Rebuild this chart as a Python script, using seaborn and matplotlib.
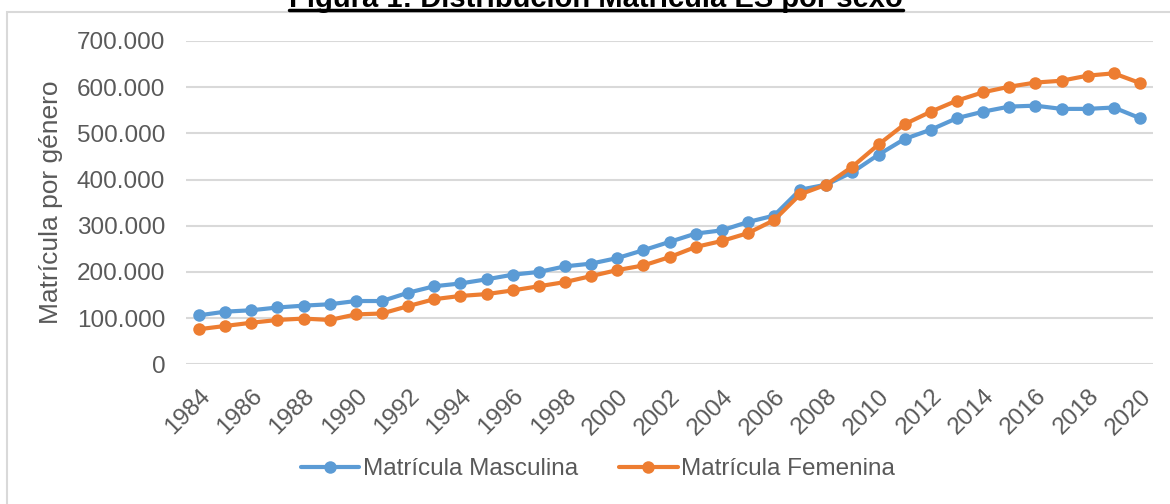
import pandas as pd
import numpy as np
import seaborn as sns
import matplotlib.pyplot as plt
from matplotlib.ticker import FuncFormatter
from matplotlib.patches import Rectangle
from matplotlib.lines import Line2D

sns.set_style("white")
plt.rcParams['font.family'] = ['Liberation Sans', 'DejaVu Sans']

# Valores (miles de estudiantes)
years = list(range(1984, 2021))
masculina = [106, 114, 117, 123, 127, 130, 137, 137, 155, 169, 175, 184,
             194, 200, 212, 218, 230, 247, 265, 283, 290, 308, 322, 378, 389,
             416, 454, 488, 508, 533, 547, 558, 560, 553, 553, 556, 533]
femenina = [76, 83, 90, 96, 99, 96, 108, 110, 126, 141, 148, 152,
            160, 169, 178, 191, 204, 214, 232, 254, 267, 284, 312, 368, 389,
            428, 476, 520, 547, 571, 589, 601, 610, 614, 625, 630, 609]
series = ["Matrícula Masculina", "Matrícula Femenina"]
colors = ["#5B9BD5", "#ED7D31"]
yticks = [0, 100000, 200000, 300000, 400000, 500000, 600000, 700000]

df = pd.DataFrame({
    "Año": years * 2,
    "Matrícula": [v * 1000 for v in masculina] + [v * 1000 for v in femenina],
    "Serie": [series[0]] * len(years) + [series[1]] * len(years),
})

fig = plt.figure(figsize=(11.7, 5.04), dpi=100)
ax = fig.add_axes([186 / 1170, 1 - 364.3 / 504, 967 / 1170, (364.3 - 41) / 504])

sns.lineplot(data=df, x="Año", y="Matrícula", hue="Serie", hue_order=series,
             palette=colors, marker="o", markersize=9, markeredgewidth=0,
             linewidth=3, ax=ax, legend=False)

ax.set_xlim(1983.5, 2020.5)
ax.set_ylim(0, 700000)
ax.set_yticks(yticks)
ax.yaxis.set_major_formatter(FuncFormatter(lambda v, p: f"{int(v):,}".replace(",", ".")))
ax.set_xticks(years[::2])
ax.grid(axis="y", color="#D9D9D9", linewidth=1.5)
ax.set_axisbelow(True)
for s in ax.spines.values():
    s.set_visible(False)

ax.tick_params(axis="both", length=0, labelsize=17.5, labelcolor="#595959")
ax.tick_params(axis="y", pad=15)
ax.tick_params(axis="x", pad=15)
for lab in ax.get_xticklabels():
    lab.set_rotation(45)
    lab.set_ha("right")
    lab.set_va("top")
    lab.set_rotation_mode("anchor")

ax.set_xlabel("")
ax.set_ylabel("Matrícula por género", fontsize=19, color="#595959", labelpad=10)

handles = [Line2D([0], [0], color=c, linewidth=3, marker="o", markersize=9,
                  markeredgewidth=0) for c in colors]
fig.legend(handles, series, loc="center", bbox_to_anchor=(598 / 1170, 1 - 469 / 504),
           ncol=2, frameon=False, fontsize=17.5, handlelength=2.4,
           handletextpad=0.15, columnspacing=1.7, labelcolor="#595959")

# marco del area del grafico
fig.add_artist(Rectangle((7 / 1170, -0.1), 1.2, (504 - 12) / 504 + 0.1,
                         transform=fig.transFigure, fill=False,
                         edgecolor="#D9D9D9", linewidth=1.5))

# titulo subrayado, recortado arriba como en la figura original
title = fig.text(596 / 1170, 1 - 7 / 504, "Figura 1: Distribución Matrícula ES por sexo",
                 ha="center", va="baseline", fontsize=21, fontweight="bold",
                 color="black")
fig.canvas.draw()
bb = title.get_window_extent()
fig.add_artist(Line2D([bb.x0 / 1170, bb.x1 / 1170], [1 - 10 / 504, 1 - 10 / 504],
                      transform=fig.transFigure, color="black", linewidth=2.5))

fig.savefig("out.png", dpi=100)
